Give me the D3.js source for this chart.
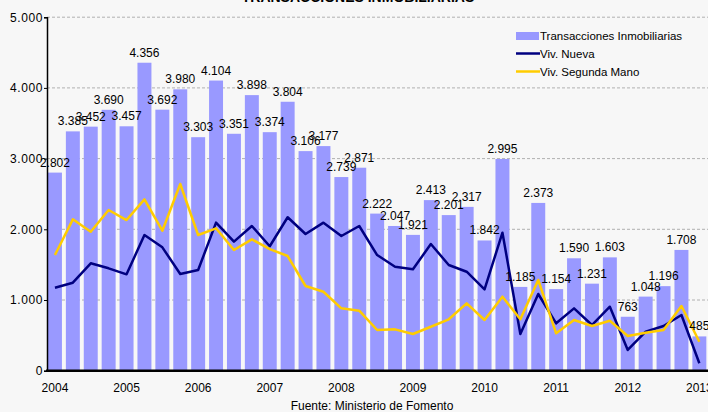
<!DOCTYPE html>
<html>
<head>
<meta charset="utf-8">
<script src="https://cdn.jsdelivr.net/npm/d3@7"></script>
<style>
  html, body { margin: 0; padding: 0; background: #f7f7f7; }
  svg { display: block; font-family: "Liberation Sans", Arial, sans-serif; }
</style>
</head>
<body>
<svg id="chart" width="708" height="412"></svg>
<script>
const quarters = ["2004T1","2004T2","2004T3","2004T4","2005T1","2005T2","2005T3","2005T4",
  "2006T1","2006T2","2006T3","2006T4","2007T1","2007T2","2007T3","2007T4",
  "2008T1","2008T2","2008T3","2008T4","2009T1","2009T2","2009T3","2009T4",
  "2010T1","2010T2","2010T3","2010T4","2011T1","2011T2","2011T3","2011T4",
  "2012T1","2012T2","2012T3","2012T4","2013T1"];
const transacciones = [2802,3385,3452,3690,3457,4356,3692,3980,3303,4104,3351,3898,3374,3804,3106,3177,
  2739,2871,2222,2047,1921,2413,2201,2317,1842,2995,1185,2373,1154,1590,1231,1603,763,1048,1196,1708,485];
const vivNueva = [1174,1245,1519,1448,1363,1919,1745,1368,1424,2094,1825,2047,1760,2170,1933,2094,
  1905,2047,1636,1471,1434,1792,1495,1400,1151,1952,519,1085,670,882,646,905,293,552,632,788,105];
const vivSegunda = [1636,2141,1966,2273,2131,2424,1980,2641,1919,2014,1707,1858,1720,1622,1198,1117,
  882,849,576,585,519,622,727,953,717,1047,727,1283,529,717,632,707,491,538,576,915,410];
const yTicks = [0,1000,2000,3000,4000,5000];
const yearLabels = ["2004","2005","2006","2007","2008","2009","2010","2011","2012","2013"];
const seriesNames = ["Transacciones Inmobiliarias","Viv. Nueva","Viv. Segunda Mano"];
const titleText = "TRANSACCIONES INMOBILIARIAS";
const sourceText = "Fuente: Ministerio de Fomento";

const svg = d3.select("#chart");
const fmt = v => d3.format(",")(v).replace(/,/g, ".");

const x = d3.scaleBand().domain(quarters).range([46, 708.3]).paddingInner(0.22).paddingOuter(0.11);
const y = d3.scaleLinear().domain([0, 5000]).range([370.7, 17.2]);

svg.append("rect").attr("width", 708).attr("height", 412).attr("fill", "#f7f7f7");

// title (clipped at the top)
svg.append("text").attr("x", 358).attr("y", 1.5).attr("text-anchor", "middle")
  .attr("font-size", 14).attr("font-weight", "bold").attr("fill", "#000").text(titleText);

// gridlines
svg.append("g").selectAll("line").data(yTicks.filter(d => d > 0)).join("line")
  .attr("x1", 47).attr("x2", 708).attr("y1", d => y(d)).attr("y2", d => y(d))
  .attr("stroke", "#b0b0b0").attr("stroke-width", 1).attr("stroke-dasharray", "3,2");

// bars
svg.append("g").selectAll("rect").data(transacciones).join("rect")
  .attr("x", (d, i) => x(quarters[i])).attr("width", x.bandwidth())
  .attr("y", d => y(d)).attr("height", d => y(0) - y(d))
  .attr("fill", "#9999ff");

// lines
const line = d3.line().x((d, i) => x(quarters[i]) + x.bandwidth() / 2).y(d => y(d));
svg.append("path").datum(vivNueva).attr("d", line).attr("fill", "none")
  .attr("stroke", "#000080").attr("stroke-width", 2.5).attr("stroke-linejoin", "round");
svg.append("path").datum(vivSegunda).attr("d", line).attr("fill", "none")
  .attr("stroke", "#ffcc00").attr("stroke-width", 2.5).attr("stroke-linejoin", "round");

// value labels
svg.append("g").selectAll("text").data(transacciones).join("text")
  .attr("x", (d, i) => x(quarters[i]) + x.bandwidth() / 2)
  .attr("y", d => y(d) - 6)
  .attr("text-anchor", "middle").attr("font-size", 12).attr("fill", "#000")
  .text(d => fmt(d));

// y axis
const yAxis = svg.append("g").attr("transform", "translate(47,0)")
  .call(d3.axisLeft(y).tickValues(yTicks).tickSize(3).tickPadding(1).tickFormat(fmt));
yAxis.select(".domain").attr("stroke", "#000").attr("stroke-width", 1.5);
yAxis.selectAll(".tick line").attr("stroke", "#000");
yAxis.selectAll("text").attr("font-size", 12).attr("fill", "#000")
  .attr("font-family", "'Liberation Sans', Arial, sans-serif").attr("letter-spacing", 0.6);

// x axis
const q1 = quarters.filter((q, i) => i % 4 === 0);
const xAxis = svg.append("g").attr("transform", `translate(0,${y(0)})`)
  .call(d3.axisBottom(x).tickValues(q1).tickSize(0).tickPadding(13)
    .tickFormat((q, i) => yearLabels[i]));
xAxis.select(".domain").remove();
xAxis.selectAll("text").attr("font-size", 12).attr("fill", "#000")
  .attr("font-family", "'Liberation Sans', Arial, sans-serif");
svg.append("line").attr("x1", 46).attr("x2", 708).attr("y1", y(0)).attr("y2", y(0))
  .attr("stroke", "#000").attr("stroke-width", 2.5);

// legend
const lg = svg.append("g").attr("font-size", 11.5).attr("fill", "#000");
lg.append("rect").attr("x", 516).attr("y", 32).attr("width", 23).attr("height", 8).attr("fill", "#9999ff");
lg.append("text").attr("x", 540).attr("y", 40).text(seriesNames[0]);
lg.append("line").attr("x1", 516).attr("x2", 540).attr("y1", 53.5).attr("y2", 53.5)
  .attr("stroke", "#000080").attr("stroke-width", 2.5);
lg.append("text").attr("x", 540).attr("y", 58).text(seriesNames[1]);
lg.append("line").attr("x1", 516).attr("x2", 540).attr("y1", 71.5).attr("y2", 71.5)
  .attr("stroke", "#ffcc00").attr("stroke-width", 2.5);
lg.append("text").attr("x", 540).attr("y", 76).text(seriesNames[2]);

// source
svg.append("text").attr("x", 372).attr("y", 410).attr("text-anchor", "middle")
  .attr("font-size", 12).attr("fill", "#000").text(sourceText);
</script>
</body>
</html>
